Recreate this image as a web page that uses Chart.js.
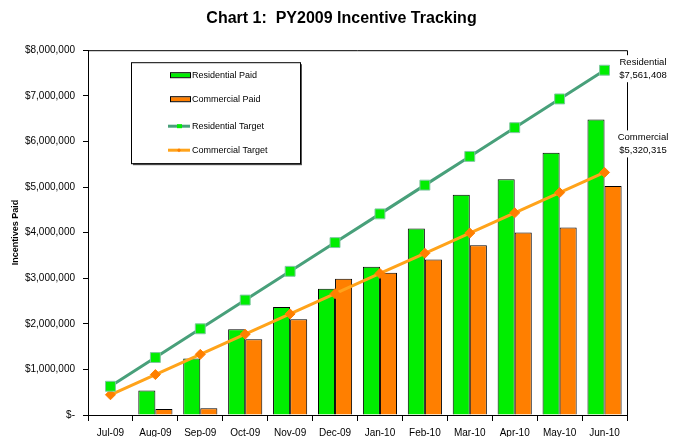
<!DOCTYPE html>
<html>
<head>
<meta charset="utf-8">
<script src="https://cdn.jsdelivr.net/npm/chart.js@4"></script>
<style>
  html,body{margin:0;padding:0;background:#fff;}
  #wrap{width:673px;height:437px;position:relative;}
</style>
</head>
<body>
<div id="wrap"><canvas id="chart" width="673" height="437"></canvas></div>
<script>
// ----- Data -----
const MONTHS = ['Jul-09','Aug-09','Sep-09','Oct-09','Nov-09','Dec-09','Jan-10','Feb-10','Mar-10','Apr-10','May-10','Jun-10'];
const RES_PAID = [null, 540000, 1240000, 1880000, 2370000, 2770000, 3250000, 4090000, 4830000, 5170000, 5750000, 6480000];
const COM_PAID = [null, 130000, 150000, 1660000, 2100000, 2990000, 3120000, 3410000, 3720000, 4000000, 4110000, 5020000];
const RES_TARGET = [630117, 1260235, 1890352, 2520469, 3150587, 3780704, 4410821, 5040939, 5671056, 6301173, 6931291, 7561408];
const COM_TARGET = [443360, 886719, 1330079, 1773438, 2216798, 2660158, 3103517, 3546877, 3990236, 4433596, 4876955, 5320315];
const Y_TICKS = [0,1000000,2000000,3000000,4000000,5000000,6000000,7000000,8000000];

const FONT = 'Arial, "Liberation Sans", sans-serif';
const GREEN = '#00ee00', ORANGE = '#ff7f00', TEAL = '#48a07a', GOLD = '#ffa31a';

function money(v){ return v===0 ? '$-' : '$' + v.toLocaleString('en-US'); }

// ----- Plugins -----
const frame = {
  id:'frame',
  afterDatasetsDraw(c){
    const a=c.chartArea, x=c.ctx;
    x.save(); x.strokeStyle='#000'; x.lineWidth=1;
    x.beginPath();
    x.moveTo(a.left, a.top+0.5); x.lineTo(a.right+0.5, a.top+0.5); x.lineTo(a.right+0.5, a.bottom);
    x.stroke(); x.restore();
  }
};

const endLabels = {
  id:'endLabels',
  afterDraw(c){
    const x=c.ctx, a=c.chartArea;
    const rp=c.getDatasetMeta(2).data[11], cp=c.getDatasetMeta(3).data[11];
    const cx=a.right+16;
    x.save();
    x.font='9.5px '+FONT; x.textAlign='center'; x.textBaseline='middle';
    const put=(lines,y0)=>{
      x.fillStyle='#fff'; x.fillRect(cx-26, y0-7, 52, 27);
      x.fillStyle='#000';
      lines.forEach((t,i)=>x.fillText(t,cx,y0+i*13));
    };
    put(['Residential', money(RES_TARGET[11])], rp.y-8);
    put(['Commercial', money(COM_TARGET[11])], cp.y-35);
    x.restore();
  }
};

const boxLegend = {
  id:'boxLegend',
  afterDraw(c){
    const x=c.ctx, a=c.chartArea;
    const L=a.left+43, T=a.top+12, W=169, H=101;
    x.save();
    x.fillStyle='#555'; x.fillRect(L+2, T+2, W, H);
    x.fillStyle='#fff'; x.fillRect(L, T, W, H);
    x.strokeStyle='#000'; x.lineWidth=1; x.strokeRect(L+0.5, T+0.5, W, H);
    const sx=L+39, sw=20, tx=sx+sw+2;
    const rows=[T+13, T+37, T+64, T+88];
    x.font='9px '+FONT; x.textBaseline='middle'; x.fillStyle='#000';
    ['Residential Paid','Commercial Paid','Residential Target','Commercial Target'].forEach((t,i)=>x.fillText(t,tx,rows[i]));
    // bar swatches
    x.lineWidth=1; x.strokeStyle='#000';
    x.fillStyle=GREEN; x.fillRect(sx,rows[0]-2,sw,4); x.strokeRect(sx+0.5,rows[0]-2.5,sw,5);
    x.fillStyle=ORANGE; x.fillRect(sx,rows[1]-2,sw,4); x.strokeRect(sx+0.5,rows[1]-2.5,sw,5);
    // line swatches
    x.lineWidth=3;
    x.strokeStyle=TEAL; x.beginPath(); x.moveTo(sx-2,rows[2]); x.lineTo(sx+sw,rows[2]); x.stroke();
    x.fillStyle=GREEN; x.fillRect(sx+7,rows[2]-2,5,4);
    x.strokeStyle=GOLD; x.beginPath(); x.moveTo(sx-2,rows[3]); x.lineTo(sx+sw,rows[3]); x.stroke();
    x.fillStyle=ORANGE; x.beginPath(); x.moveTo(sx+9,rows[3]-2); x.lineTo(sx+11,rows[3]); x.lineTo(sx+9,rows[3]+2); x.lineTo(sx+7,rows[3]); x.fill();
    x.restore();
  }
};

// ----- Chart -----
const ctx=document.getElementById('chart').getContext('2d');
new Chart(ctx,{
  type:'bar',
  data:{
    labels:MONTHS,
    datasets:[
      {label:'Residential Paid', data:RES_PAID, backgroundColor:GREEN, borderColor:'#000', borderWidth:1, borderSkipped:'bottom', order:2},
      {label:'Commercial Paid', data:COM_PAID, backgroundColor:ORANGE, borderColor:'#000', borderWidth:1, borderSkipped:'bottom', order:2},
      {type:'line', label:'Residential Target', data:RES_TARGET, borderColor:TEAL, borderWidth:3, pointStyle:'rect', pointRadius:7,
        pointBackgroundColor:GREEN, pointBorderColor:'#7fc7a0', pointBorderWidth:1, tension:0, order:0},
      {type:'line', label:'Commercial Target', data:COM_TARGET, borderColor:GOLD, borderWidth:3, pointStyle:'rectRot', pointRadius:5,
        pointBackgroundColor:ORANGE, pointBorderColor:ORANGE, pointBorderWidth:1, tension:0, order:1}
    ]
  },
  options:{
    responsive:false,
    animation:false,
    layout:{padding:{left:10,right:0,top:0,bottom:0}},
    datasets:{bar:{categoryPercentage:0.76, barPercentage:1.0}},
    plugins:{
      legend:{display:false},
      tooltip:{enabled:false},
      title:{display:true, text:'Chart 1:  PY2009 Incentive Tracking', color:'#000',
        font:{family:FONT, size:16, weight:'bold'}, padding:{top:9,bottom:22}}
    },
    scales:{
      x:{
        grid:{display:true, drawOnChartArea:false, offset:true, tickLength:6, color:'#000'},
        border:{color:'#000', width:1},
        ticks:{color:'#000', font:{family:FONT,size:10}, padding:6, maxRotation:0, autoSkip:false},
        afterFit(s){ s.height=22; }
      },
      y:{
        min:0, max:8000000,
        afterBuildTicks(s){ s.ticks=Y_TICKS.map(v=>({value:v})); },
        grid:{display:true, drawOnChartArea:false, tickLength:5, color:'#000'},
        border:{color:'#000', width:1},
        ticks:{color:'#000', font:{family:FONT,size:10}, padding:8, callback:v=>money(v)},
        title:{display:true, text:'Incentives Paid', color:'#000', font:{family:FONT,size:9,weight:'bold'}, padding:0},
        afterFit(s){ s.width=78; }
      },
      yR:{
        position:'right', min:0, max:8000000,
        grid:{display:false}, border:{display:false}, ticks:{display:false},
        afterFit(s){ s.width=46; }
      }
    }
  },
  plugins:[frame, boxLegend, endLabels]
});
</script>
</body>
</html>
